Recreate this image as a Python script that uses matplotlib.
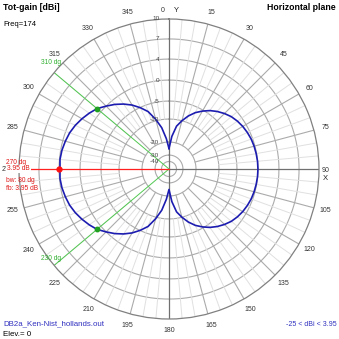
import numpy as np
import matplotlib
matplotlib.use("Agg")
from matplotlib import pyplot as plt

plt.rcParams['font.family'] = ['Liberation Sans Narrow', 'Liberation Sans', 'DejaVu Sans']

# gain rings (dBi) and their radius on the plot (fraction of outer circle)
ring_db = [-40, -30, -20, -10, -5, 0, 4, 7, 10]
ring_r = [0.05, 0.093, 0.18, 0.333, 0.453, 0.593, 0.733, 0.867, 1.0]
ring_labels = ['-40', '-30', '-20', '-10', '-5', '0', '4', '7', '10']

# pattern, one quarter per lobe (symmetric about the X axis)
quarter_deg = np.arange(0, 95, 5)
# 0..90 deg
right_db = [-25, -17.5, -12.8, -10.0, -8.2, -6.6, -5.3, -4.2, -3.3, -2.5,
            -1.8, -1.3, -0.9, -0.6, -0.35, -0.2, -0.1, -0.02, 0.0]
# 270..360 deg
left_db = [3.95, 3.9, 3.76, 3.5, 3.2, 2.75, 2.2, 1.6, 0.95, 0.0,
           -1.1, -2.3, -3.6, -5.1, -6.9, -9.6, -13.5, -18.5, -25]

max_dir = 270
max_gain = 3.95
bw_left, bw_right = 230, 310
bw_gain = 0.95
fb_ratio = 3.95
freq = 174
min_gain = -25

angle_ticks = list(range(15, 360, 15))


def rad(db):
    return np.interp(db, ring_db, ring_r)


# full 360 deg pattern from the two quarters
q = np.array(quarter_deg)
rq = np.array(right_db)
lq = np.array(left_db)
th = np.concatenate([q, 180 - q[-2::-1], 270 - q[:0:-1], 270 + q[1:]])
gain = np.concatenate([rq, rq[-2::-1], lq[:0:-1], lq[1:]])
order = np.argsort(th)
th = th[order]
gain = gain[order]

W = 339
fig = plt.figure(figsize=(3.39, 3.39), dpi=100)
cx, cy, R = 169, 169, 150
ax = fig.add_axes([(cx - R) / W, (W - cy - R) / W, 2 * R / W, 2 * R / W],
                  projection='polar')
ax.set_theta_zero_location('N')
ax.set_theta_direction(-1)
ax.set_ylim(0, 1)
ax.grid(False)
ax.set_xticks([])
ax.set_yticks([])
ax.spines['polar'].set_color('#808080')
ax.spines['polar'].set_linewidth(0.9)

circ = np.linspace(0, 2 * np.pi, 361)
for db in ring_db[:-1]:
    ax.plot(circ, np.full_like(circ, rad(db)), color='#ababab', lw=0.8)

# spokes: 15 deg from -20 ring, 5 deg (light) from -10 ring
for a in range(0, 360, 5):
    t = np.radians(a)
    if a % 90 == 0:
        continue
    if a % 15 == 0:
        ax.plot([t, t], [rad(-20), 1], color='#ababab', lw=0.8)
    else:
        ax.plot([t, t], [rad(-10), 1], color='#e0e0e0', lw=0.7)

# main axes
ax.plot([0, 0], [0, 1], color='#707070', lw=0.9)
ax.plot([np.pi, np.pi], [0, 1], color='#707070', lw=0.9)
ax.plot([np.pi / 2, np.pi / 2], [0, 1], color='#707070', lw=0.9)

# bw and max markers
for a in (bw_left, bw_right):
    ax.plot([np.radians(a)] * 2, [0, 1], color='#50c850', lw=0.7)
ax.plot([np.radians(max_dir)] * 2, [0, 1], color='#ff2020', lw=0.9)

ax.plot(np.radians(th), rad(gain), color='#1c1cb0', lw=1.2)

ax.plot(np.radians([bw_left, bw_right]), rad([bw_gain, bw_gain]), 'o',
        color='#20a020', ms=3.2)
ax.plot(np.radians(max_dir), rad(max_gain), 'o', color='#ff1010', ms=3.5)

# ring labels along the vertical axis
for db, lab in zip(ring_db, ring_labels):
    ax.annotate(lab, xy=(0, rad(db)), xytext=(-7, 0), textcoords='offset points',
                ha='right', va='center', fontsize=4.6, color='#444444')

# angle labels
for a in angle_ticks:
    if a == 90:
        continue
    ax.text(np.radians(a), 1.08, str(a), ha='center', va='center',
            fontsize=5, color='#333333', clip_on=False)


def ftext(x, y, s, **kw):
    fig.text(x / W, 1 - y / W, s, va='center', **kw)


ftext(326, 170, '90', ha='center', fontsize=5, color='#333333')
ftext(325, 178, 'X', ha='center', fontsize=5.5, color='#222222')
ftext(165, 10, '0', ha='right', fontsize=5, color='#333333')
ftext(174, 10, 'Y', ha='left', fontsize=5.5, color='#222222')

ftext(3, 7, 'Tot-gain [dBi]', ha='left', fontsize=6.3, fontweight='bold')
ftext(3, 24, 'Freq=%d' % freq, ha='left', fontsize=5.5)
ftext(336, 7, 'Horizontal plane', ha='right', fontsize=6.3, fontweight='bold')
ftext(3, 324, 'DB2a_Ken-Nist_hollands.out', ha='left', fontsize=5.7,
      color='#3030c0')
ftext(3, 334, 'Elev.= 0', ha='left', fontsize=5.7)
ftext(337, 324, '%d < dBi < %.2f' % (min_gain, max_gain), ha='right',
      fontsize=5, color='#3030c0')

red = '#e01818'
ftext(6, 162, '%d dg' % max_dir, ha='left', fontsize=4.8, color=red)
ftext(7, 169, '%.2f dB' % max_gain, ha='left', fontsize=4.8, color=red,
      bbox=dict(facecolor='white', edgecolor='none', pad=0.6))
ftext(6, 180, 'bw: %d dg' % (bw_right - bw_left), ha='left', fontsize=4.8,
      color=red)
ftext(6, 189, 'fb: %.2f dB' % fb_ratio, ha='left', fontsize=4.8, color=red)

green = '#30b030'
ftext(41, 63, '%d dg' % bw_right, ha='left', fontsize=4.8, color=green)
ftext(41, 259, '%d dg' % bw_left, ha='left', fontsize=4.8, color=green)

fig.savefig('out.png', dpi=100)
